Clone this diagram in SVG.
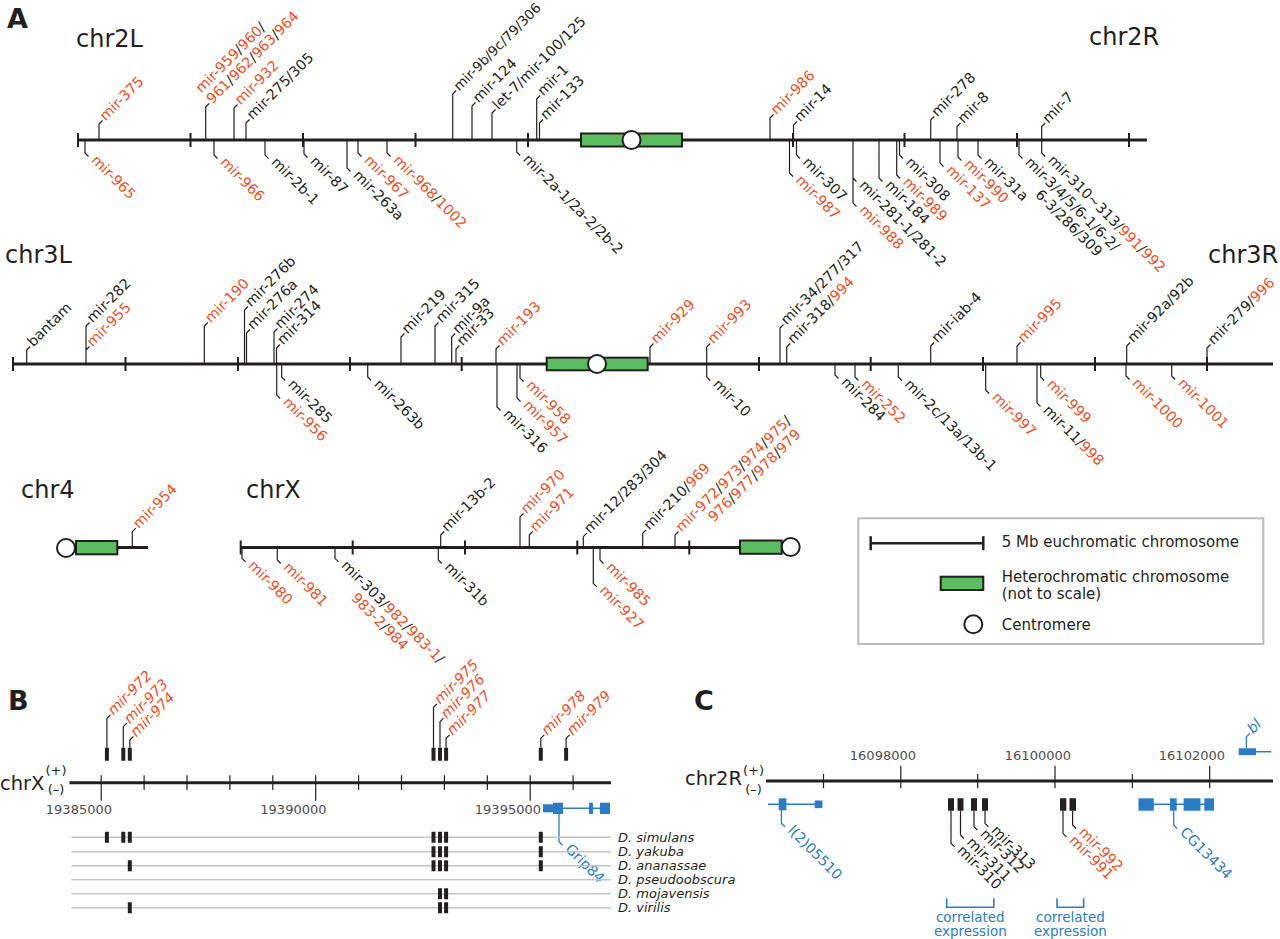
<svg xmlns="http://www.w3.org/2000/svg" width="1280" height="939" viewBox="0 0 1280 939">
<style>
.chr{stroke:#231F20;stroke-width:3;fill:none}
.tk{stroke:#231F20;stroke-width:2;fill:none}
.tn{stroke:#231F20;stroke-width:1.2;fill:none}
.ld{stroke:#231F20;stroke-width:1.2;fill:none}
.bld{stroke:#2C7CC5;stroke-width:1.3;fill:none}
.het{fill:#5BBD5F;stroke:#231F20;stroke-width:2}
.cen{fill:#fff;stroke:#231F20;stroke-width:2}
.lb{font-family:'DejaVu Sans',Verdana,sans-serif;font-size:14.3px;fill:#231F20}
.it{font-style:italic}
.r{fill:#F04E26}
.bl{fill:#2C7CC5}
.cl{font-family:'DejaVu Sans',Verdana,sans-serif;font-size:24px;fill:#231F20}
.pl{font-family:'DejaVu Sans',Verdana,sans-serif;font-size:27px;font-weight:bold;fill:#231F20}
.num{font-family:'DejaVu Sans',Verdana,sans-serif;font-size:13px;fill:#4D4D4D;text-anchor:end}
.lg{font-family:'DejaVu Sans',Verdana,sans-serif;font-size:15px;fill:#231F20}
.sp{font-family:'DejaVu Sans',Verdana,sans-serif;font-size:13px;font-style:italic;fill:#231F20}
.mb{fill:#231F20}
.gn{fill:#2C7CC5}
.gl{stroke:#C4C4C4;stroke-width:1.5}
</style>

<g id="titles">
<text class="pl" x="7" y="28">A</text>
<text class="pl" x="8" y="710">B</text>
<text class="pl" x="694" y="710">C</text>
<text class="cl" x="76" y="47">chr2L</text>
<text class="cl" x="1089" y="45">chr2R</text>
<text class="cl" x="5" y="263">chr3L</text>
<text class="cl" x="1208" y="263">chr3R</text>
<text class="cl" x="21" y="498">chr4</text>
<text class="cl" x="246" y="498">chrX</text>
</g>

<g id="chr2">
<path class="chr" d="M78 140H1147"/>
<path class="tk" d="M78 133V147M190.5 133V147M303 133V147M415.5 133V147M528 133V147M793 133V147M904.5 133V147M1017 133V147M1129 133V147"/>
<rect class="het" x="581" y="133.5" width="101" height="13"/>
<circle class="cen" cx="631.5" cy="140" r="9"/>
</g>
<g id="chr3">
<path class="chr" d="M13 364H1273"/>
<path class="tk" d="M13 357V371M125.5 357V371M238 357V371M350 357V371M461.7 357V371M759 357V371M870.7 357V371M983 357V371M1095 357V371M1207 357V371"/>
<rect class="het" x="546.7" y="357.7" width="101" height="12.6"/>
<circle class="cen" cx="597" cy="364" r="9"/>
</g>
<g id="chr4">
<path class="chr" d="M117 547.5H148"/>
<rect class="het" x="76" y="541" width="41.3" height="13.3"/>
<circle class="cen" cx="66" cy="548" r="9"/>
</g>
<g id="chrX">
<path class="chr" d="M240.7 547.5H741"/>
<path class="tk" d="M240.7 540.5V554.5M352.7 540.5V554.5M465 540.5V554.5M577.3 540.5V554.5M689.3 540.5V554.5"/>
<rect class="het" x="740" y="540.5" width="41.7" height="13.3"/>
<circle class="cen" cx="790.7" cy="547" r="9"/>
</g>

<g id="connectors">
<path class="ld" d="M99 140V124l3.5-3.5M205.7 140V107l3.5-3.5M234 140V108l3.5-3.5M246 140V123l3.5-3.5M452.7 140V94l3.5-3.5M472 140V106l3.5-3.5M492 140V113l3.5-3.5M536.7 140V99l3.5-3.5M539.5 140V123l3.5-3.5M770 140V118l3.5-3.5M793.5 140V125l3.5-3.5M930.7 140V120l3.5-3.5M957 140V126.5l3.5-3.5M1041.7 140V126.5l3.5-3.5"/>
<path class="ld" d="M85 140V153l3.5 3.5M214 140V155l3.5 3.5M265 140V155l3.5 3.5M304 140V154l3.5 3.5M347 140V168l3.5 3.5M358 140V153l3.5 3.5M387 140V153l3.5 3.5M516.7 140V152l3.5 3.5M789.5 140V173l3.5 3.5M796.5 140V155l3.5 3.5M853 140V203l3.5 3.5M853 178l3.5 3.5M879 140V178l3.5 3.5M896.7 140V175l3.5 3.5M899.5 140V155l3.5 3.5M940 140V163l3.5 3.5M958 140V157l3.5 3.5M978 140V155l3.5 3.5M1019 140V155l3.5 3.5M1041.7 140V153l3.5 3.5"/>
<path class="ld" d="M26.7 364V350l3.5-3.5M86 364V326l3.5-3.5M86 350l3.5-3.5M204.3 364V326l3.5-3.5M244.5 364V310l3.5-3.5M246.5 364V333l3.5-3.5M274 364V332l3.5-3.5M276.5 364V348l3.5-3.5M401 364V337l3.5-3.5M435 364V326l3.5-3.5M451.7 364V337l3.5-3.5M456 364V349l3.5-3.5M496 364V349l3.5-3.5M650 364V347l3.5-3.5M706.7 364V347l3.5-3.5M780 364V328l3.5-3.5M786.7 364V347l3.5-3.5M930.7 364V346l3.5-3.5M1017 364V346l3.5-3.5M1126.7 364V346l3.5-3.5M1207 364V348l3.5-3.5"/>
<path class="ld" d="M276.7 364V395l3.5 3.5M281.7 364V377l3.5 3.5M367.7 364V377l3.5 3.5M497 364V407l3.5 3.5M517 364V398l3.5 3.5M520 364V378l3.5 3.5M706.7 364V377l3.5 3.5M835 364V375l3.5 3.5M855 364V377l3.5 3.5M898.3 364V377l3.5 3.5M985.7 364V390l3.5 3.5M1037 364V403l3.5 3.5M1040.7 364V377l3.5 3.5M1126 364V376l3.5 3.5M1171.7 364V376l3.5 3.5"/>
<path class="ld" d="M132.3 547.5V531.7l3.5-3.5"/>
<path class="ld" d="M440.7 547.5V535l3.5-3.5M520 547.5V517l3.5-3.5M529.3 547.5V535l3.5-3.5M583.3 547.5V536.7l3.5-3.5M642.7 547.5V533.3l3.5-3.5M675 547.5V535l3.5-3.5"/>
<path class="ld" d="M242 547.5V558.3l3.5 3.5M277.3 547.5V560l3.5 3.5M335 547.5V558.3l3.5 3.5M438.3 547.5V560l3.5 3.5M593.3 547.5V583.3l3.5 3.5M600 547.5V560l3.5 3.5"/>
<path class="ld" d="M106.9 747.7V718.3l3.5-3.5M123.3 747.7V726.7l3.5-3.5M129.8 747.7V740l3.5-3.5M433.5 747.7V707.3l3.5-3.5M440 747.7V721.7l3.5-3.5M446.1 747.7V738.3l3.5-3.5M540.8 747.7V738.3l3.5-3.5M566.1 747.7V738.3l3.5-3.5"/>
<path class="ld" d="M951 810.7V843.3l3.5 3.5M960.5 810.7V835l3.5 3.5M974 810.7V826.7l3.5 3.5M985 810.7V823.3l3.5 3.5M1063 810.7V833.3l3.5 3.5M1072.6 810.7V825l3.5 3.5"/>
<path class="bld" d="M559 814V841.7l3.5 3.5M781.4 810V823.3l3.5 3.5M1173.7 810.7V825l3.5 3.5M1246.4 748.3V736.7l3.5-3.5"/>
<path class="bld" d="M946.7 898.3V907.3H993.8V898.3M1057 898.3V907.3H1083.7V898.3" style="stroke-width:1.6"/>
</g>

<g id="chr2-labels">
<text class="lb r" transform="translate(105.5,121.5) rotate(-45)">mir-375</text>
<g id="l-959"><text class="lb" transform="translate(212.2,104.5) rotate(-45) translate(0,-15.5)"><tspan class="r">mir-959</tspan>/<tspan class="r">960</tspan>/</text>
<text class="lb" transform="translate(212.2,104.5) rotate(-45)"><tspan class="r">961</tspan>/<tspan class="r">962</tspan>/<tspan class="r">963</tspan>/<tspan class="r">964</tspan></text></g>
<text class="lb r" transform="translate(240.5,105.5) rotate(-45)">mir-932</text>
<text class="lb" transform="translate(252.5,120.5) rotate(-45)">mir-275/305</text>
<text class="lb" transform="translate(459.2,91.5) rotate(-45)" style="font-size:13.6px">mir-9b/9c/79/306</text>
<text class="lb" transform="translate(478.5,103.5) rotate(-45)">mir-124</text>
<text class="lb" transform="translate(498.5,110.5) rotate(-45)">let-7/mir-100/125</text>
<text class="lb" transform="translate(543.2,96.5) rotate(-45)">mir-1</text>
<text class="lb" transform="translate(546,120.5) rotate(-45)">mir-133</text>
<text class="lb r" transform="translate(776.5,115.5) rotate(-45)">mir-986</text>
<text class="lb" transform="translate(800,122.5) rotate(-45)">mir-14</text>
<text class="lb" transform="translate(937.2,117.5) rotate(-45)">mir-278</text>
<text class="lb" transform="translate(963.5,124) rotate(-45)">mir-8</text>
<text class="lb" transform="translate(1048.2,124) rotate(-45)">mir-7</text>

<text class="lb r" transform="translate(90.5,161) rotate(45)">mir-965</text>
<text class="lb r" transform="translate(219.5,163) rotate(45)">mir-966</text>
<text class="lb" transform="translate(270.5,163) rotate(45)">mir-2b-1</text>
<text class="lb" transform="translate(309.5,162) rotate(45)">mir-87</text>
<text class="lb" transform="translate(352.5,176) rotate(45)">mir-263a</text>
<text class="lb r" transform="translate(363.5,161) rotate(45)">mir-967</text>
<text class="lb" transform="translate(392.5,161) rotate(45)"><tspan class="r">mir-968</tspan>/<tspan class="r">1002</tspan></text>
<text class="lb" transform="translate(522.2,160) rotate(45)">mir-2a-1/2a-2/2b-2</text>
<text class="lb r" transform="translate(795,181) rotate(45)">mir-987</text>
<text class="lb" transform="translate(802,163) rotate(45)">mir-307</text>
<text class="lb r" transform="translate(858.5,211) rotate(45)">mir-988</text>
<text class="lb" transform="translate(858.5,186) rotate(45)">mir-281-1/281-2</text>
<text class="lb" transform="translate(884.5,186) rotate(45)">mir-184</text>
<text class="lb r" transform="translate(902.2,183) rotate(45)">mir-989</text>
<text class="lb" transform="translate(905,163) rotate(45)">mir-308</text>
<text class="lb r" transform="translate(945.5,171) rotate(45)">mir-137</text>
<text class="lb r" transform="translate(963.5,165) rotate(45)">mir-990</text>
<text class="lb" transform="translate(983.5,163) rotate(45)">mir-31a</text>
<g id="l-mir3"><text class="lb" transform="translate(1024.5,163) rotate(45)">mir-3/4/5/6-1/6-2/</text>
<text class="lb" transform="translate(1024.5,163) rotate(45) translate(30,16)">6-3/286/309</text></g>
<text class="lb" transform="translate(1047.2,161) rotate(45)">mir-310~313/<tspan class="r">991</tspan>/<tspan class="r">992</tspan></text>
</g>

<g id="chr3-labels">
<text class="lb" transform="translate(33.2,347.5) rotate(-45)">bantam</text>
<text class="lb" transform="translate(92.5,323.5) rotate(-45)">mir-282</text>
<text class="lb r" transform="translate(92.5,347.5) rotate(-45)">mir-955</text>
<text class="lb r" transform="translate(210.8,323.5) rotate(-45)">mir-190</text>
<text class="lb" transform="translate(251,307.5) rotate(-45)">mir-276b</text>
<text class="lb" transform="translate(253,330.5) rotate(-45)">mir-276a</text>
<text class="lb" transform="translate(280.5,329.5) rotate(-45)">mir-274</text>
<text class="lb" transform="translate(283,345.5) rotate(-45)">mir-314</text>
<text class="lb" transform="translate(407.5,334.5) rotate(-45)">mir-219</text>
<text class="lb" transform="translate(441.5,323.5) rotate(-45)">mir-315</text>
<text class="lb" transform="translate(458.2,334.5) rotate(-45)">mir-9a</text>
<text class="lb" transform="translate(462.5,346.5) rotate(-45)">mir-33</text>
<text class="lb r" transform="translate(502.5,346.5) rotate(-45)">mir-193</text>
<text class="lb r" transform="translate(656.5,344.5) rotate(-45)">mir-929</text>
<text class="lb r" transform="translate(713.2,344.5) rotate(-45)">mir-993</text>
<text class="lb" transform="translate(786.5,325.5) rotate(-45)">mir-34/277/317</text>
<text class="lb" transform="translate(793.2,344.5) rotate(-45)">mir-318/<tspan class="r">994</tspan></text>
<text class="lb" transform="translate(937.2,343.5) rotate(-45)">mir-iab-4</text>
<text class="lb r" transform="translate(1023.5,343.5) rotate(-45)">mir-995</text>
<text class="lb" transform="translate(1133.2,343.5) rotate(-45)">mir-92a/92b</text>
<text class="lb" transform="translate(1213.5,345.5) rotate(-45)">mir-279/<tspan class="r">996</tspan></text>

<text class="lb r" transform="translate(282.2,403) rotate(45)">mir-956</text>
<text class="lb" transform="translate(287.2,385) rotate(45)">mir-285</text>
<text class="lb" transform="translate(373.2,385) rotate(45)">mir-263b</text>
<text class="lb" transform="translate(502.5,415) rotate(45)">mir-316</text>
<text class="lb r" transform="translate(522.5,406) rotate(45)">mir-957</text>
<text class="lb r" transform="translate(525.5,386) rotate(45)">mir-958</text>
<text class="lb" transform="translate(712.2,385) rotate(45)">mir-10</text>
<text class="lb" transform="translate(840.5,383) rotate(45)">mir-284</text>
<text class="lb r" transform="translate(860.5,385) rotate(45)">mir-252</text>
<text class="lb" transform="translate(903.8,385) rotate(45)">mir-2c/13a/13b-1</text>
<text class="lb r" transform="translate(991.2,398) rotate(45)">mir-997</text>
<text class="lb" transform="translate(1042.5,411) rotate(45)">mir-11/<tspan class="r">998</tspan></text>
<text class="lb r" transform="translate(1046.2,385) rotate(45)">mir-999</text>
<text class="lb r" transform="translate(1131.5,384) rotate(45)">mir-1000</text>
<text class="lb r" transform="translate(1177.2,384) rotate(45)">mir-1001</text>
</g>

<g id="chr4-labels">
<text class="lb r" transform="translate(138.8,529.2) rotate(-45)">mir-954</text>
</g>
<g id="chrX-labels">
<text class="lb" transform="translate(447.2,532.5) rotate(-45)">mir-13b-2</text>
<text class="lb r" transform="translate(526.5,514.5) rotate(-45)">mir-970</text>
<text class="lb r" transform="translate(535.8,532.5) rotate(-45)">mir-971</text>
<text class="lb" transform="translate(589.8,534.2) rotate(-45)">mir-12/283/304</text>
<text class="lb" transform="translate(649.2,530.8) rotate(-45)">mir-210/<tspan class="r">969</tspan></text>
<g id="l-972"><text class="lb" transform="translate(681.5,532.5) rotate(-45)"><tspan class="r">mir-972</tspan>/<tspan class="r">973</tspan>/<tspan class="r">974</tspan>/<tspan class="r">975</tspan>/</text>
<text class="lb" transform="translate(681.5,532.5) rotate(-45) translate(30,16)"><tspan class="r">976</tspan>/<tspan class="r">977</tspan>/<tspan class="r">978</tspan>/<tspan class="r">979</tspan></text></g>

<text class="lb r" transform="translate(247.5,566.3) rotate(45)">mir-980</text>
<text class="lb r" transform="translate(282.8,568) rotate(45)">mir-981</text>
<g id="l-303"><text class="lb" transform="translate(340.5,566.3) rotate(45)">mir-303/<tspan class="r">982</tspan>/<tspan class="r">983-1</tspan>/</text>
<text class="lb" transform="translate(340.5,566.3) rotate(45) translate(30,16)"><tspan class="r">983-2</tspan>/<tspan class="r">984</tspan></text></g>
<text class="lb" transform="translate(443.8,568) rotate(45)">mir-31b</text>
<text class="lb r" transform="translate(598.8,591.3) rotate(45)">mir-927</text>
<text class="lb r" transform="translate(605.5,568) rotate(45)">mir-985</text>
</g>

<g id="legend">
<rect x="858.3" y="518.3" width="405" height="125.7" fill="#fff" stroke="#BDBDBD" stroke-width="2"/>
<path class="tk" d="M870.7 543.3H983.3M870.7 536.3V550.3M983.3 536.3V550.3" style="stroke-width:2.5"/>
<text class="lg" x="1001.7" y="547">5 Mb euchromatic chromosome</text>
<rect class="het" x="940.7" y="576.7" width="42.6" height="13.3"/>
<text class="lg" x="1001.7" y="581.5">Heterochromatic chromosome</text>
<text class="lg" x="1001.7" y="599">(not to scale)</text>
<circle class="cen" cx="973.3" cy="624.3" r="9"/>
<text class="lg" x="1001.7" y="630">Centromere</text>
</g>

<g id="panelB-axis">
<text class="cl" x="0" y="790" style="font-size:19.5px">chrX</text>
<text class="lb" x="56" y="775" text-anchor="middle" style="font-size:13px">(+)</text>
<text class="lb" x="56" y="794" text-anchor="middle" style="font-size:13px">(–)</text>
<path class="chr" d="M69.4 782.7H611"/>
<path class="tn" d="M101.2 775.3V800.7M144.1 775.3V790M187 775.3V790M229.9 775.3V790M272.8 775.3V790M315.7 775.3V800.7M358.6 775.3V790M401.5 775.3V790M444.4 775.3V790M487.3 775.3V790M530.2 775.3V800.7M573.1 775.3V790"/>
<text class="num" x="112" y="814">19385000</text>
<text class="num" x="326.5" y="814">19390000</text>
<text class="num" x="541" y="814">19395000</text>
</g>
<g id="panelB-mirs">
<path class="mb" d="M104.9 747.7h4v13h-4zM121.3 747.7h4v13h-4zM127.8 747.7h4v13h-4zM431.5 747.7h4v13h-4zM438 747.7h4v13h-4zM444.1 747.7h4v13h-4zM538.8 747.7h4v13h-4zM564.1 747.7h4v13h-4z"/>
<text class="lb it r" transform="translate(113.4,715.8) rotate(-45)">mir-972</text>
<text class="lb it r" transform="translate(129.8,724.2) rotate(-45)">mir-973</text>
<text class="lb it r" transform="translate(136.3,737.5) rotate(-45)">mir-974</text>
<text class="lb it r" transform="translate(440,704.8) rotate(-45)">mir-975</text>
<text class="lb it r" transform="translate(446.5,719.2) rotate(-45)">mir-976</text>
<text class="lb it r" transform="translate(452.6,735.8) rotate(-45)">mir-977</text>
<text class="lb it r" transform="translate(547.3,735.8) rotate(-45)">mir-978</text>
<text class="lb it r" transform="translate(572.6,735.8) rotate(-45)">mir-979</text>
</g>
<g id="gene-Grip84">
<rect class="gn" x="543" y="804.3" width="11" height="8"/>
<rect class="gn" x="553" y="802.7" width="10" height="11.3"/>
<path d="M563 808.3H600" stroke="#2C7CC5" stroke-width="1.5"/>
<rect class="gn" x="589" y="802.7" width="4" height="11.3"/>
<rect class="gn" x="600" y="802.7" width="10" height="11.3"/>
<text class="lb bl" transform="translate(564.5,849.7) rotate(45)">Grip84</text>
</g>
<g id="species">
<path class="gl" d="M71.4 837.3H611M71.4 851.7H611M71.4 865.7H611M71.4 879.7H611M71.4 893.7H611M71.4 907.7H611"/>
<path class="mb" d="M104.9 831.8h4v11h-4zM121.3 831.8h4v11h-4zM127.8 831.8h4v11h-4zM431.5 831.8h4v11h-4zM438 831.8h4v11h-4zM444.1 831.8h4v11h-4zM538.8 831.8h4v11h-4z"/>
<path class="mb" d="M431.5 846.2h4v11h-4zM438 846.2h4v11h-4zM444.1 846.2h4v11h-4zM538.8 846.2h4v11h-4z"/>
<path class="mb" d="M127.8 860.2h4v11h-4zM431.5 860.2h4v11h-4zM438 860.2h4v11h-4zM444.1 860.2h4v11h-4zM538.8 860.2h4v11h-4z"/>
<path class="mb" d="M438 888.2h4v11h-4zM444.1 888.2h4v11h-4z"/>
<path class="mb" d="M127.8 902.2h4v11h-4zM438 902.2h4v11h-4zM444.1 902.2h4v11h-4z"/>
<text class="sp" x="618" y="842">D. simulans</text>
<text class="sp" x="618" y="856.3">D. yakuba</text>
<text class="sp" x="618" y="870.3">D. ananassae</text>
<text class="sp" x="618" y="884.3">D. pseudoobscura</text>
<text class="sp" x="618" y="898.3">D. mojavensis</text>
<text class="sp" x="618" y="912.3">D. virilis</text>
</g>

<g id="panelC-axis">
<text class="cl" x="685" y="785" style="font-size:19.5px">chr2R</text>
<text class="lb" x="753.5" y="775" text-anchor="middle" style="font-size:13px">(+)</text>
<text class="lb" x="753.5" y="794" text-anchor="middle" style="font-size:13px">(–)</text>
<path class="chr" d="M766 781H1273"/>
<path class="tn" d="M823.5 774V788.3M900.8 765.7V788.3M977.7 774V788.3M1055 765.7V788.3M1132.4 774V788.3M1209.7 765.7V788.3"/>
<text class="num" x="916" y="760">16098000</text>
<text class="num" x="1071" y="760">16100000</text>
<text class="num" x="1225" y="760">16102000</text>
</g>
<g id="panelC-mirs">
<path class="mb" d="M948 798.3h6v12.4h-6zM957.5 798.3h6v12.4h-6zM971 798.3h6v12.4h-6zM982 798.3h6v12.4h-6zM1060 798.3h6.3v12.4h-6.3zM1069.5 798.3h6.5v12.4h-6.5z"/>
<text class="lb" transform="translate(956.5,851.3) rotate(45)">mir-310</text>
<text class="lb" transform="translate(966,843) rotate(45)">mir-311</text>
<text class="lb" transform="translate(979.5,834.7) rotate(45)">mir-312</text>
<text class="lb" transform="translate(990.5,831.3) rotate(45)">mir-313</text>
<text class="lb r" transform="translate(1068.5,841.3) rotate(45)">mir-991</text>
<text class="lb r" transform="translate(1078.1,833) rotate(45)">mir-992</text>
</g>
<g id="gene-l2">
<path d="M768 804.3H815" stroke="#2C7CC5" stroke-width="1.5"/>
<rect class="gn" x="778.7" y="798.3" width="7.7" height="12"/>
<rect class="gn" x="814.7" y="800.5" width="7.7" height="7.6"/>
<text class="lb bl" transform="translate(786.9,831.3) rotate(45)">l(2)05510</text>
</g>
<g id="gene-CG13434">
<path d="M1138.5 804.3H1214" stroke="#2C7CC5" stroke-width="1.5"/>
<rect class="gn" x="1138.5" y="798.3" width="15.3" height="12.4"/>
<rect class="gn" x="1170" y="798.3" width="6.7" height="12.4"/>
<rect class="gn" x="1183.6" y="798.3" width="16.9" height="12.4"/>
<rect class="gn" x="1204.3" y="798.3" width="9.7" height="12.4"/>
<text class="lb bl" transform="translate(1179.2,833) rotate(45)">CG13434</text>
</g>
<g id="gene-bl">
<rect class="gn" x="1238.7" y="748.3" width="17.3" height="6.8"/>
<path d="M1256 751.7H1271.3" stroke="#2C7CC5" stroke-width="1.5"/>
<text class="lb bl it" transform="translate(1252.9,734.2) rotate(-45)">bl</text>
</g>
<g id="corr">
<text class="lb bl" x="970.3" y="921.5" text-anchor="middle" style="font-size:13.5px">correlated</text>
<text class="lb bl" x="970.3" y="935.5" text-anchor="middle" style="font-size:13.5px">expression</text>
<text class="lb bl" x="1070.4" y="921.5" text-anchor="middle" style="font-size:13.5px">correlated</text>
<text class="lb bl" x="1070.4" y="935.5" text-anchor="middle" style="font-size:13.5px">expression</text>
</g>
</svg>
